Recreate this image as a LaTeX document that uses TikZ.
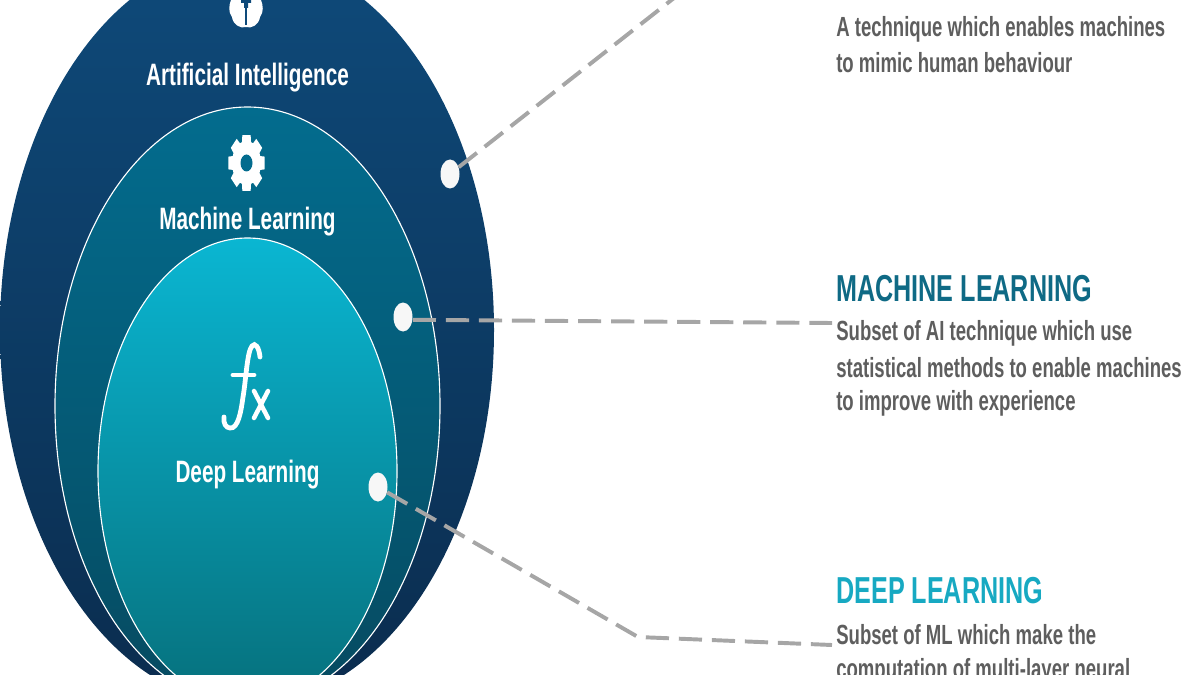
\documentclass[tikz,border=0pt]{standalone}
\usepackage{fontspec}
\setmainfont{Liberation Sans}
\newfontfamily\labelfont[FakeStretch=0.67]{Liberation Sans}
\usetikzlibrary{shapes.geometric,calc}

\definecolor{aiblue}{HTML}{0E4A7A}
\definecolor{aidark}{HTML}{0B2C4E}
\definecolor{mlteal}{HTML}{036C8E}
\definecolor{mldark}{HTML}{064A60}
\definecolor{dlcyan}{HTML}{0AB6D2}
\definecolor{dldark}{HTML}{06707C}
\definecolor{mlhead}{HTML}{0F6A85}
\definecolor{dlhead}{HTML}{17A9C2}
\definecolor{bodygray}{HTML}{5E5E5E}
\definecolor{dashgray}{HTML}{A6A6A6}

\begin{document}
\begin{tikzpicture}[
    x=0.025cm, y=-0.025cm,
    circ/.style={ellipse, inner sep=0pt},
    dot/.style={ellipse, fill=white!94!gray, inner sep=0pt, minimum width=19*0.025cm, minimum height=29*0.025cm},
    leader/.style={draw=dashgray, line width=2.8pt, dash pattern=on 16.5pt off 7pt},
    inlabel/.style={text=white, font=\labelfont\bfseries\fontsize{22}{26}\selectfont},
    head/.style={anchor=west, inner sep=0pt, font=\labelfont\bfseries\fontsize{26.7}{30}\selectfont},
    body/.style={anchor=west, inner sep=0pt, text=bodygray, font=\labelfont\bfseries\fontsize{19.7}{24}\selectfont}
]
    \useasboundingbox (0,0) rectangle (1200,675);
    \clip (0,0) rectangle (1200,675);

    \node[circ, top color=aiblue, bottom color=aidark, minimum width=494*0.025cm, minimum height=750*0.025cm] (ai) at (247,330) {};
    \node[circ, draw=white, thick, top color=mlteal, bottom color=mldark, minimum width=385*0.025cm, minimum height=598*0.025cm] (ml) at (247.5,406) {};
    \node[circ, draw=white, thick, top color=dlcyan, bottom color=dldark, minimum width=299*0.025cm, minimum height=466*0.025cm] (dl) at (247.5,471) {};

    % brain
    \fill[white] (246,27) .. controls (241,29) and (233,25) .. (232,17) .. controls (228,12) and (229,5) .. (231,0) -- (261,0) .. controls (263,5) and (264,12) .. (260,17) .. controls (259,25) and (251,29) .. (246,27) -- cycle;
    \draw[aiblue, line width=0.8pt] (246,6) -- (246,25);
    \fill[aiblue] (241,0) rectangle (251,3) (244,3) rectangle (248,8);

    % gear
    \foreach \ang in {0,45,...,315} {
        \fill[white, shift={(246.5,163)}] (\ang-13:18.5 and 28.5) -- (\ang+13:18.5 and 28.5) -- (\ang+20:13.5 and 20.5) -- (\ang-20:13.5 and 20.5) -- cycle;
    }
    \fill[white] (246.5,163) ellipse (14.5 and 22);
    \fill[mlteal] (246.5,163) ellipse (6 and 8.5);

    % fx
    \draw[white, line width=3.4pt, line cap=round] (260,357) .. controls (259,347) and (255,342) .. (252,346) .. controls (247,352) and (246,380) .. (243,397) .. controls (241,412) and (238,429) .. (230,428) .. controls (226,428) and (223,423) .. (224,417);
    \draw[white, line width=3.4pt, line cap=round] (233,375) -- (254,375);
    \draw[white, line width=3.2pt, line cap=round] (254,391) -- (268,418) (268,391) -- (254,418);

    \node[inlabel] (ailabel) at (247.5,78) {Artificial Intelligence};
    \node[inlabel] (mllabel) at (247.5,222) {Machine Learning};
    \node[inlabel] (dllabel) at (247.5,475) {Deep Learning};

    \node[dot] (aidot) at (450,174) {};
    \node[dot] (mldot) at (403,317) {};
    \node[dot] (dldot) at (378,487) {};

    \coordinate (aiend) at (674,-2);
    \coordinate (mlend) at (832,323);
    \coordinate (dlbend) at (638,637);
    \coordinate (dlend) at (832,645);

    \draw[leader] (aidot) -- (aiend);
    \draw[leader] ([yshift=-2pt]mldot.east) -- (mlend);
    \draw[leader] (dldot) -- (dlbend) -- (dlend);

    \node[body] (aibody) at (836,29) {A technique which enables machines};
    \node[body] (aibodyb) at (836,63) {to mimic human behaviour};

    \node[head, text=mlhead] (mlheading) at (836,289) {MACHINE LEARNING};
    \node[body] (mlbody) at (836,333) {Subset of AI technique which use};
    \node[body] (mlbodyb) at (836,368) {statistical methods to enable machines};
    \node[body] (mlbodyc) at (836,403) {to improve with experience};

    \node[head, text=dlhead] (dlheading) at (836,591) {DEEP LEARNING};
    \node[body] (dlbody) at (836,635) {Subset of ML which make the};
    \node[body] (dlbodyb) at (836,671) {computation of multi-layer neural};
\end{tikzpicture}
\end{document}
